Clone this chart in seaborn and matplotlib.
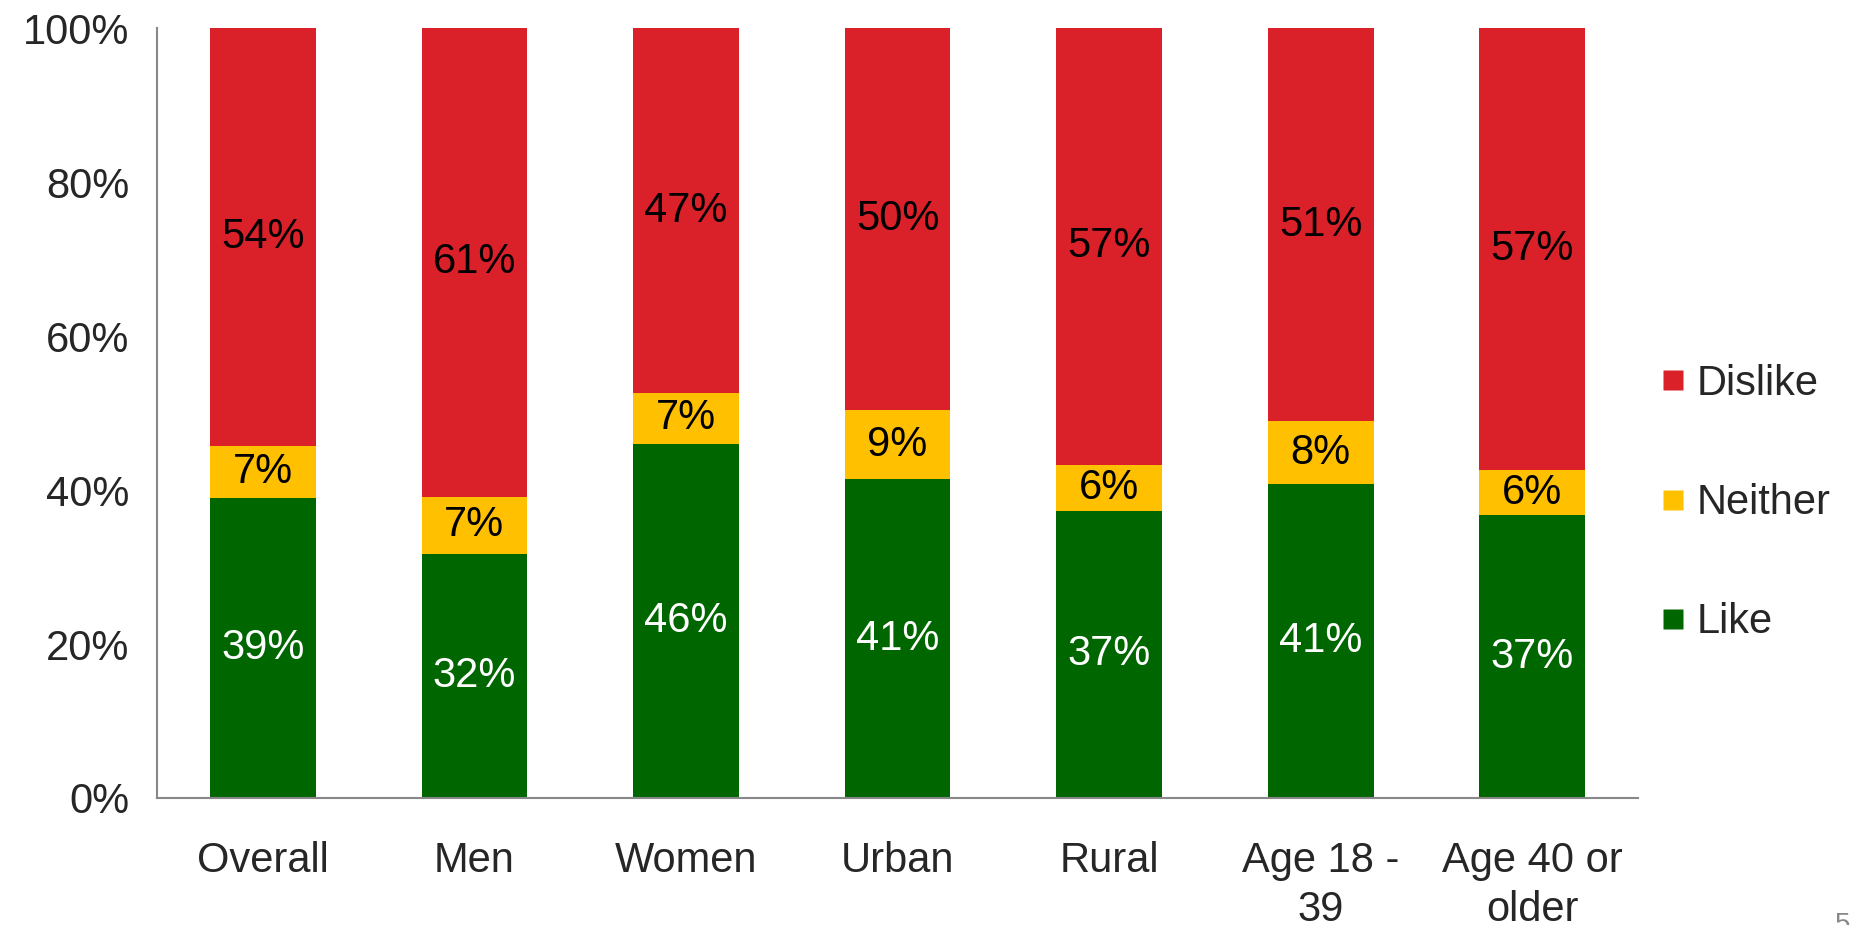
import numpy as np
import pandas as pd
import matplotlib
matplotlib.use('Agg')
import matplotlib.pyplot as plt
from matplotlib.lines import Line2D
import seaborn as sns

# Data (percent of respondents)
groups = ['Overall', 'Men', 'Women', 'Urban', 'Rural', 'Age 18 -\n39', 'Age 40 or\nolder']
like = [38.9, 31.7, 46.0, 41.4, 37.3, 40.8, 36.7]
neither = [6.8, 7.4, 6.6, 9.0, 6.0, 8.1, 5.9]
dislike = [54.3, 60.9, 47.4, 49.6, 56.7, 51.1, 57.4]

colors = {'Like': '#006600', 'Neither': '#FFC000', 'Dislike': '#DA2029'}

df = pd.DataFrame({'group': groups, 'Like': like, 'Neither': neither, 'Dislike': dislike})
df['top_like'] = df['Like']
df['top_neither'] = df['Like'] + df['Neither']
df['top_dislike'] = df['top_neither'] + df['Dislike']

sns.set_style('white')
plt.rcParams['font.family'] = ['Liberation Sans', 'DejaVu Sans']

fig = plt.figure(figsize=(18.5, 9.25), dpi=100)
ax = fig.add_axes([0.0849, 0.1373, 0.8005, 0.8324])

# stacked bars drawn as overlapping cumulative totals
for col, name in [('top_dislike', 'Dislike'), ('top_neither', 'Neither'), ('top_like', 'Like')]:
    sns.barplot(data=df, x='group', y=col, color=colors[name], width=0.5,
                saturation=1, edgecolor='none', linewidth=0, ax=ax)

# segment labels
lab_size = 30
for i, row in df.iterrows():
    ax.text(i, row['Like'] / 2, f"{round(row['Like'])}%", ha='center', va='center',
            fontsize=lab_size, color='white')
    ax.text(i, row['Like'] + row['Neither'] / 2, f"{round(row['Neither'])}%",
            ha='center', va='center', fontsize=lab_size, color='black')
    ax.text(i, row['top_neither'] + row['Dislike'] / 2, f"{round(row['Dislike'])}%",
            ha='center', va='center', fontsize=lab_size, color='black')

ax.set_xlim(-0.5, len(groups) - 0.5)
ax.set_ylim(0, 100)
ax.set_yticks(np.arange(0, 101, 20))
ax.set_yticklabels([f'{v}%' for v in range(0, 101, 20)], fontsize=30)
ax.set_xlabel('')
ax.set_ylabel('')

# category labels between boundary ticks
ax.set_xticks(np.arange(-0.5, len(groups)), minor=False)
ax.set_xticklabels([])
ax.set_xticks(np.arange(len(groups)), minor=True)
ax.set_xticklabels(groups, minor=True, fontsize=30, linespacing=1.28)
ax.tick_params(axis='x', which='minor', length=0, pad=31)
ax.tick_params(axis='x', which='major', length=12, color='#888888', width=1.5, direction='out')
ax.tick_params(axis='y', length=12, color='#888888', width=1.5, direction='out', pad=8)

for side in ['top', 'right']:
    ax.spines[side].set_visible(False)
for side in ['left', 'bottom']:
    ax.spines[side].set_color('#888888')
    ax.spines[side].set_linewidth(1.5)

handles = [Line2D([0], [0], marker='s', linestyle='none', markersize=15,
                  markerfacecolor=colors[n], markeredgecolor='none', label=n)
           for n in ['Dislike', 'Neither', 'Like']]
ax.legend(handles=handles, loc='center left', bbox_to_anchor=(1.0, 0.383),
          frameon=False, fontsize=30, labelspacing=1.9, handlelength=0.7,
          handletextpad=0.2, borderpad=0)

fig.text(0.996, 0.0, '5', fontsize=20, color='#888888', ha='center', va='center')

fig.savefig('out.png', dpi=100)
